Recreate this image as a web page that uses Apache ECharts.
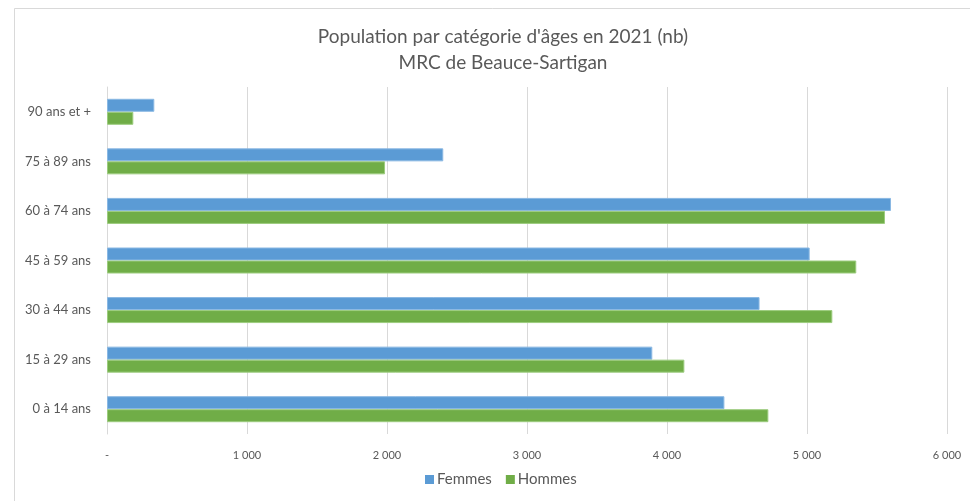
<!DOCTYPE html>
<html>
<head>
<meta charset="utf-8">
<script src="https://cdn.jsdelivr.net/npm/echarts@6/dist/echarts.min.js"></script>
<style>
  html, body { margin: 0; padding: 0; background: #fff; }
  #chart { width: 970px; height: 501px; }
</style>
</head>
<body>
<div id="chart"></div>
<script>
// Age groups, top to bottom
const categories = ['90 ans et +', '75 à 89 ans', '60 à 74 ans', '45 à 59 ans', '30 à 44 ans', '15 à 29 ans', '0 à 14 ans'];
const femmes = [338, 2402, 5600, 5019, 4661, 3895, 4410];
const hommes = [188, 1986, 5557, 5352, 5181, 4124, 4724];
const xTicks = [0, 1000, 2000, 3000, 4000, 5000, 6000];

const FONT = 'Lato';
const TXT = '#595959';

function fmt(v) {
  if (v === 0) return '-';
  return String(v).replace(/\B(?=(\d{3})+(?!\d))/g, ' ');
}

const chart = echarts.init(document.getElementById('chart'), null, { renderer: 'canvas' });
chart.setOption({
  animation: false,
  backgroundColor: '#fff',
  textStyle: { fontFamily: FONT },
  graphic: [
    { type: 'polyline', shape: { points: [[14.5, 501], [14.5, 8.5], [970, 8.5]] },
      style: { stroke: '#d9d9d9', lineWidth: 1, fill: null } }
  ],
  title: {
    text: "Population par catégorie d'âges en 2021 (nb)\nMRC de Beauce-Sartigan",
    left: 498, textAlign: 'center', top: 19,
    textStyle: { fontFamily: FONT, fontSize: 19, fontWeight: 'normal', color: TXT, lineHeight: 26 }
  },
  legend: {
    data: ['Femmes', 'Hommes'],
    bottom: 9, left: 420,
    itemWidth: 9, itemHeight: 9, itemGap: 14,
    icon: 'rect',
    itemStyle: { borderWidth: 0 },
    textStyle: { fontFamily: FONT, fontSize: 15, color: TXT, padding: [0, 0, 0, -2] }
  },
  grid: { left: 107, right: 23, top: 87, bottom: 67, containLabel: false },
  xAxis: {
    type: 'value', min: xTicks[0], max: xTicks[xTicks.length - 1], interval: 1000,
    axisLine: { show: false }, axisTick: { show: false },
    splitLine: { show: true, lineStyle: { color: '#d9d9d9', width: 1 } },
    axisLabel: { formatter: fmt, fontFamily: FONT, fontSize: 11, color: TXT, margin: 16 }
  },
  yAxis: {
    type: 'category', data: categories, inverse: true,
    axisLine: { show: true, lineStyle: { color: '#d9d9d9', width: 1 } },
    axisTick: { show: false },
    axisLabel: { fontFamily: FONT, fontSize: 13, color: TXT, margin: 16 }
  },
  series: [
    { name: 'Femmes', type: 'bar', data: femmes, barWidth: 13, barGap: '0%',
      itemStyle: { color: '#5b9bd5', borderColor: '#8ab8e3', borderWidth: 1 } },
    { name: 'Hommes', type: 'bar', data: hommes, barWidth: 13, barGap: '0%',
      itemStyle: { color: '#70ad47', borderColor: '#9ccc7e', borderWidth: 1 } }
  ]
});
</script>
</body>
</html>
